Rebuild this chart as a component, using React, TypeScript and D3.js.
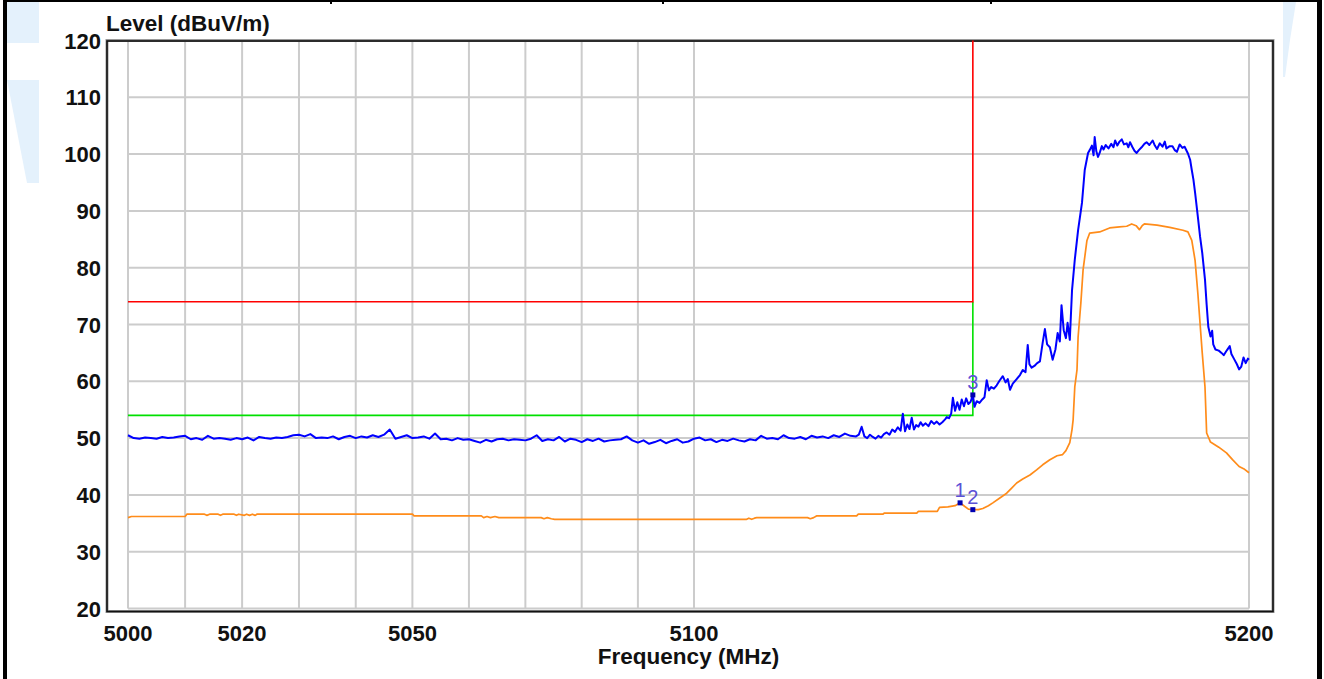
import React from "react";
import * as d3 from "d3";

// ---- axis definitions ----
const freqDomain: [number, number] = [5000, 5200];
const levelDomain: [number, number] = [20, 120];
const gridFreqs = [5000, 5010, 5020, 5030, 5040, 5050, 5060, 5070, 5080, 5090, 5100, 5200];
const freqTickLabels = [5000, 5020, 5050, 5100, 5200];
const levelTicks = [20, 30, 40, 50, 60, 70, 80, 90, 100, 110, 120];

// ---- limit lines ----
const redLimit: [number, number][] = [[5000, 74], [5150, 74], [5150, 120]];
const greenLimit: [number, number][] = [[5000, 54], [5150, 54], [5150, 74]];

// ---- peak trace (blue) ----
const blueTrace: [number, number][] = [
  [5000, 50.5], [5001, 50.0], [5002, 49.9], [5003, 50.1], [5004, 50.0], [5005, 49.9], [5006, 50.2], [5007, 50.0], [5008, 50.1], [5009, 50.3],
  [5010, 50.4], [5011, 49.8], [5012, 50.0], [5013, 49.7], [5014, 50.4], [5015, 49.9], [5016, 50.0], [5017, 49.9], [5018, 49.7], [5019, 50.0],
  [5020, 49.8], [5021, 50.1], [5022, 49.6], [5023, 50.2], [5024, 50.0], [5025, 49.9], [5026, 50.1], [5027, 50.0], [5028, 50.2], [5029, 50.5],
  [5030, 50.6], [5031, 50.3], [5032, 50.7], [5033, 50.0], [5034, 50.1], [5035, 50.0], [5036, 50.3], [5037, 49.8], [5038, 50.2], [5039, 50.4],
  [5040, 50.0], [5041, 50.3], [5042, 50.1], [5043, 50.5], [5044, 50.2], [5045, 50.6], [5046, 51.5], [5047, 49.9], [5048, 50.2], [5049, 50.5],
  [5050, 50.0], [5051, 50.1], [5052, 50.3], [5053, 49.9], [5054, 50.8], [5055, 49.8], [5056, 49.9], [5057, 49.6], [5058, 50.0], [5059, 49.7],
  [5060, 49.8], [5061, 49.5], [5062, 49.2], [5063, 49.7], [5064, 49.4], [5065, 49.8], [5066, 49.9], [5067, 49.6], [5068, 49.8], [5069, 49.7],
  [5070, 49.6], [5071, 49.9], [5072, 50.5], [5073, 49.5], [5074, 49.8], [5075, 49.6], [5076, 50.2], [5077, 49.4], [5078, 49.9], [5079, 49.7],
  [5080, 49.3], [5081, 49.8], [5082, 49.5], [5083, 49.9], [5084, 49.4], [5085, 49.6], [5086, 49.7], [5087, 49.8], [5088, 50.3], [5089, 49.6],
  [5090, 49.2], [5091, 49.6], [5092, 49.0], [5093, 49.3], [5094, 49.7], [5095, 49.1], [5096, 49.5], [5097, 49.8], [5098, 49.2], [5099, 49.4],
  [5100, 49.9], [5101, 50.1], [5102, 49.6], [5103, 49.8], [5104, 49.3], [5105, 49.7], [5106, 49.5], [5107, 49.9], [5108, 49.6], [5109, 49.4],
  [5110, 49.8], [5111, 49.6], [5112, 50.4], [5113, 49.9], [5114, 50.0], [5115, 49.8], [5116, 50.5], [5117, 50.0], [5118, 49.9], [5119, 50.2],
  [5120, 49.8], [5121, 50.4], [5122, 50.1], [5123, 50.3], [5124, 50.0], [5125, 50.5], [5126, 50.2], [5127, 50.8], [5128, 50.4], [5129, 50.3],
  [5129.5, 50.6], [5130, 52.0], [5130.5, 50.3], [5131, 50.0], [5131.5, 50.6], [5132, 50.2], [5132.5, 49.9], [5133, 50.4], [5133.5, 50.1], [5134, 50.7],
  [5134.5, 51.0], [5135, 50.6], [5135.5, 51.5], [5136, 51.1], [5136.5, 51.9], [5137, 51.3], [5137.4, 54.3], [5137.8, 51.2], [5138.2, 52.4], [5138.6, 51.6],
  [5139, 53.6], [5139.4, 51.5], [5139.8, 52.3], [5140.2, 52.0], [5140.6, 52.8], [5141, 52.2], [5141.5, 52.6], [5142, 52.1], [5142.5, 53.0], [5143, 52.5],
  [5143.5, 52.9], [5144, 52.4], [5144.5, 52.8], [5145, 53.3], [5145.3, 53.7], [5145.7, 53.5], [5146.1, 54.3], [5146.4, 57.1], [5146.8, 54.8], [5147.2, 56.3],
  [5147.6, 55.0], [5148, 56.8], [5148.4, 55.6], [5148.8, 57.0], [5149.2, 56.0], [5149.6, 56.4], [5150, 57.6], [5150.3, 55.5], [5150.7, 56.5], [5151.2, 56.2],
  [5151.7, 56.8], [5152.1, 57.2], [5152.5, 60.2], [5152.9, 58.4], [5153.3, 59.0], [5153.8, 58.7], [5154.3, 59.3], [5154.8, 60.1], [5155.4, 60.9], [5155.9, 59.8],
  [5156.3, 60.4], [5156.7, 58.5], [5157.2, 59.6], [5157.9, 60.4], [5158.5, 61.1], [5159.0, 62.0], [5159.5, 61.6], [5159.9, 66.4], [5160.2, 63.0], [5160.6, 62.4],
  [5161.1, 62.7], [5161.6, 63.2], [5162.1, 63.5], [5162.6, 66.8], [5163.0, 69.2], [5163.4, 66.5], [5163.9, 66.0], [5164.4, 63.8], [5164.9, 65.6], [5165.3, 68.5],
  [5165.7, 67.0], [5166.0, 73.4], [5166.4, 69.0], [5166.8, 67.6], [5167.1, 70.3], [5167.5, 67.3], [5167.9, 76.0], [5168.4, 81.4], [5169.0, 86.6], [5169.7, 91.4],
  [5170.2, 97.2], [5170.8, 100.2], [5171.1, 100.7], [5171.5, 101.5], [5171.8, 99.8], [5172.0, 103.0], [5172.3, 100.5], [5172.6, 99.5], [5172.9, 100.2], [5173.3, 101.4],
  [5173.6, 100.8], [5174.0, 101.6], [5174.5, 101.0], [5175.0, 101.8], [5175.4, 101.2], [5175.7, 102.4], [5176.1, 101.5], [5176.5, 102.2], [5176.9, 102.6], [5177.3, 101.7],
  [5177.8, 101.9], [5178.1, 101.2], [5178.4, 102.1], [5178.8, 101.3], [5179.2, 100.6], [5179.6, 100.2], [5180.0, 100.7], [5180.5, 101.2], [5181.0, 101.8], [5181.4, 102.1],
  [5181.9, 101.6], [5182.5, 102.4], [5182.9, 101.5], [5183.3, 100.9], [5183.8, 101.9], [5184.3, 101.3], [5184.7, 102.2], [5185.0, 101.0], [5185.6, 101.4], [5186.1, 101.4],
  [5186.5, 100.7], [5186.9, 100.4], [5187.4, 101.7], [5187.9, 101.1], [5188.3, 101.3], [5188.9, 100.1], [5189.3, 99.0], [5189.6, 97.2], [5189.9, 95.5], [5190.2, 93.2],
  [5190.7, 89.0], [5191.1, 85.5], [5191.5, 82.6], [5192.0, 77.9], [5192.3, 73.5], [5192.6, 69.6], [5193.0, 67.9], [5193.3, 68.9], [5193.5, 66.5], [5193.9, 65.6],
  [5194.5, 65.4], [5195.0, 65.0], [5195.4, 64.6], [5196.0, 65.5], [5196.5, 66.2], [5196.8, 64.8], [5197.3, 63.9], [5197.8, 63.0], [5198.2, 62.1], [5198.6, 62.6],
  [5199.0, 64.2], [5199.4, 63.2], [5199.8, 64.0], [5200, 63.8],
];

// ---- average trace (orange) ----
const orangeTrace: [number, number][] = [
  [5000, 36.0], [5000.6, 36.2], [5010.0, 36.2], [5010.3, 36.6], [5013.4, 36.6], [5013.8, 36.4], [5014.3, 36.6], [5015.8, 36.6], [5016.2, 36.4], [5016.6, 36.6],
  [5018.6, 36.6], [5019.0, 36.4], [5019.4, 36.6], [5020.4, 36.4], [5020.8, 36.6], [5021.3, 36.4], [5021.8, 36.6], [5022.3, 36.4], [5022.6, 36.6], [5050.0, 36.6],
  [5050.3, 36.3], [5062.2, 36.3], [5062.6, 36.0], [5063.2, 36.2], [5063.8, 36.0], [5064.6, 36.2], [5065.3, 36.0], [5072.8, 36.0], [5073.3, 35.8], [5073.9, 36.0],
  [5074.6, 35.8], [5075.2, 35.7], [5109.4, 35.7], [5109.8, 35.9], [5110.3, 35.7], [5110.8, 35.9], [5111.2, 36.0], [5120.3, 36.0], [5120.8, 35.8], [5121.4, 36.0],
  [5121.9, 36.3], [5129.1, 36.3], [5129.4, 36.6], [5133.8, 36.6], [5134.1, 36.8], [5139.9, 36.8], [5140.2, 37.1], [5143.6, 37.1], [5144.0, 37.8], [5145.5, 37.9],
  [5146.8, 38.1], [5147.7, 38.6], [5148.5, 38.0], [5149.2, 37.5], [5150.0, 37.4], [5151.0, 37.4], [5151.8, 37.6], [5152.8, 38.1], [5153.6, 38.6], [5154.8, 39.4],
  [5156.1, 40.3], [5157.0, 41.2], [5157.9, 42.1], [5159.0, 42.8], [5160.3, 43.5], [5161.5, 44.4], [5162.6, 45.3], [5163.9, 46.2], [5165.2, 46.9], [5166.2, 47.1],
  [5166.8, 47.8], [5167.5, 49.2], [5167.9, 51.5], [5168.1, 53.2], [5168.4, 59.0], [5168.8, 62.0], [5169.0, 67.8], [5169.5, 73.8], [5169.9, 79.6], [5170.6, 84.8],
  [5171.1, 86.1], [5172.9, 86.3], [5174.7, 87.0], [5176.5, 87.2], [5177.8, 87.3], [5178.7, 87.7], [5179.5, 87.4], [5180.1, 86.7], [5180.6, 87.4], [5181.0, 87.7],
  [5183.3, 87.5], [5185.6, 87.1], [5188.0, 86.6], [5188.9, 86.3], [5189.6, 84.8], [5190.2, 81.3], [5190.7, 75.5], [5191.5, 65.0], [5192.0, 59.0], [5192.3, 50.9],
  [5193.0, 49.3], [5194.5, 48.4], [5195.9, 47.4], [5197.0, 46.2], [5198.2, 45.0], [5199.2, 44.5], [5200, 43.9],
];

// ---- markers ----
const markerLabels = ["1", "2", "3"];
const markerFreqs = [5147.7, 5150.0, 5150.0];
const markerLevels = [38.6, 37.4, 57.6];

const W = 1324;
const H = 679;

export default function App() {
  const x = d3.scaleLog().domain(freqDomain).range([128, 1249]);
  const y = d3.scaleLinear().domain(levelDomain).range([608.5, 40.5]);
  const line = d3
    .line<[number, number]>()
    .x((d) => x(d[0]))
    .y((d) => y(d[1]));

  const font = "'Liberation Sans', Arial, sans-serif";
  const [x0, x1] = x.range();
  const [yb, yt] = y.range();

  return (
    <svg
      width={W}
      height={H}
      style={{ position: "absolute", left: 0, top: 0, background: "#fff" }}
      fontFamily={font}
    >
      <rect x={0} y={0} width={W} height={H} fill="#fff" />
      {/* watermark fragments */}
      <rect x={7} y={2} width={32} height={41} fill="#e4f1fc" />
      <polygon points="7,80 39,80 39,183 27,183" fill="#e4f1fc" />
      <polygon points="1283,2 1296,2 1290,40 1285,77 1283,77" fill="#e4f1fc" />
      {/* page borders */}
      <rect x={3} y={0} width={4} height={H} fill="#000" />
      <rect x={1317} y={0} width={5} height={H} fill="#000" />
      <rect x={7} y={0} width={1310} height={2} fill="#000" />
      <rect x={330} y={0} width={2} height={4} fill="#000" />
      <rect x={662} y={0} width={2} height={4} fill="#000" />
      <rect x={990} y={0} width={2} height={4} fill="#000" />

      {/* grid */}
      {gridFreqs.map((f) => (
        <line key={"gx" + f} x1={x(f)} x2={x(f)} y1={yt} y2={yb} stroke="#cccccc" strokeWidth={2} />
      ))}
      {levelTicks.map((v) => (
        <line key={"gy" + v} x1={x0} x2={x1} y1={y(v)} y2={y(v)} stroke="#cccccc" strokeWidth={2} />
      ))}

      {/* frame */}
      <rect x={107} y={40.5} width={1166} height={571} fill="none" stroke="#9a9a9a" strokeWidth={3} />
      <rect x={107} y={41} width={1166} height={570.5} fill="none" stroke="#111" strokeWidth={1.6} />

      {/* limit lines */}
      <path d={line(greenLimit) || ""} fill="none" stroke="#00e000" strokeWidth={1.6} />
      <path d={line(redLimit) || ""} fill="none" stroke="#ff0000" strokeWidth={1.6} />

      {/* traces */}
      <path d={line(orangeTrace) || ""} fill="none" stroke="#ff8c1a" strokeWidth={1.7} strokeLinejoin="round" />
      <path d={line(blueTrace) || ""} fill="none" stroke="#0000ff" strokeWidth={2} strokeLinejoin="round" />

      {/* markers */}
      {markerLabels.map((lab, i) => {
        const mx = x(markerFreqs[i]);
        const my = y(markerLevels[i]);
        return (
          <g key={"m" + lab}>
            <rect x={mx - 2.5} y={my - 2.5} width={5} height={5} fill="#0000b0" />
            <text x={mx} y={my - 6} textAnchor="middle" fontSize={20} fill="#5b52d6">
              {lab}
            </text>
          </g>
        );
      })}

      {/* y tick labels */}
      {levelTicks.map((v) => (
        <text key={"ly" + v} x={101} y={y(v) + 8} textAnchor="end" fontSize={22} fontWeight="bold" fill="#111">
          {v}
        </text>
      ))}
      {/* x tick labels */}
      {freqTickLabels.map((f) => (
        <text key={"lx" + f} x={x(f)} y={641} textAnchor="middle" fontSize={22} fontWeight="bold" fill="#111">
          {f}
        </text>
      ))}

      {/* axis titles */}
      <text x={106} y={31} fontSize={22.5} fontWeight="bold" fill="#111">
        Level (dBuV/m)
      </text>
      <text x={(x0 + x1) / 2} y={664} textAnchor="middle" fontSize={22.5} fontWeight="bold" fill="#111">
        Frequency (MHz)
      </text>
    </svg>
  );
}
